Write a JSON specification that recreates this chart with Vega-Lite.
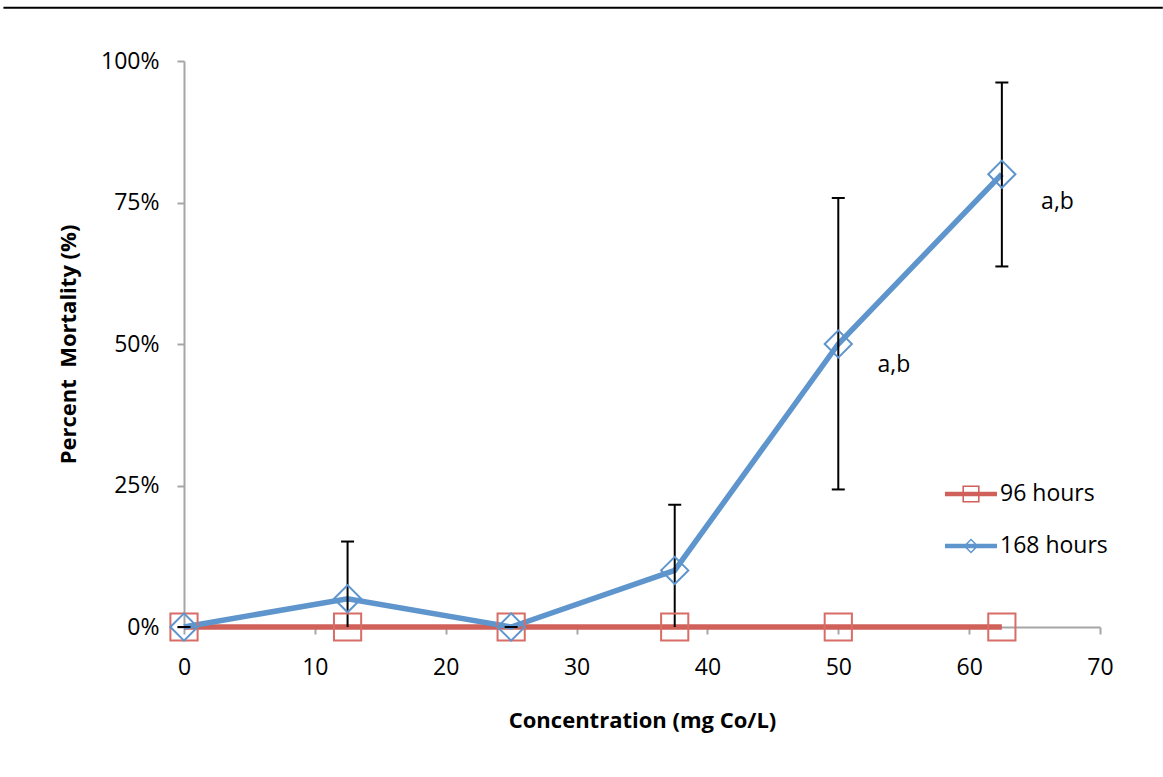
{
  "$schema": "https://vega.github.io/schema/vega-lite/v6.json",
  "description": "Percent mortality against cobalt concentration at 96 and 168 hours",
  "width": 916,
  "height": 566,
  "autosize": {"type": "none"},
  "padding": {"left": 184, "top": 61, "right": 63, "bottom": 150},
  "background": "white",
  "datasets": {
    "mortality": [
      {"conc": 0, "series": "96 hours", "mortality": 0},
      {"conc": 12.5, "series": "96 hours", "mortality": 0},
      {"conc": 25, "series": "96 hours", "mortality": 0},
      {"conc": 37.5, "series": "96 hours", "mortality": 0},
      {"conc": 50, "series": "96 hours", "mortality": 0},
      {"conc": 62.5, "series": "96 hours", "mortality": 0},
      {"conc": 0, "series": "168 hours", "mortality": 0},
      {"conc": 12.5, "series": "168 hours", "mortality": 5},
      {"conc": 25, "series": "168 hours", "mortality": 0},
      {"conc": 37.5, "series": "168 hours", "mortality": 10},
      {"conc": 50, "series": "168 hours", "mortality": 50},
      {"conc": 62.5, "series": "168 hours", "mortality": 80}
    ],
    "errors": [
      {"conc": 12.5, "lo": 0, "hi": 15.1},
      {"conc": 37.5, "lo": 0, "hi": 21.6},
      {"conc": 50, "lo": 24.3, "hi": 75.8},
      {"conc": 62.5, "lo": 63.7, "hi": 96.2}
    ],
    "caps": [
      {"conc": 0, "value": 0},
      {"conc": 12.5, "value": 15.1},
      {"conc": 25, "value": 0},
      {"conc": 37.5, "value": 21.6},
      {"conc": 50, "value": 24.3},
      {"conc": 50, "value": 75.8},
      {"conc": 62.5, "value": 63.7},
      {"conc": 62.5, "value": 96.2}
    ],
    "notes": [
      {"conc": 53.0, "value": 46.3, "text": "a,b"},
      {"conc": 65.5, "value": 75.1, "text": "a,b"}
    ],
    "border": [
      {"x": -13.8, "x2": 74.8, "y": 109.4}
    ]
  },
  "config": {
    "view": {"stroke": null},
    "font": "Open Sans",
    "axis": {
      "grid": false,
      "labelFlush": false,
      "labelOverlap": false,
      "domainColor": "#A6A6A6",
      "domainWidth": 2,
      "tickColor": "#A6A6A6",
      "tickWidth": 2,
      "tickSize": 7,
      "labelFont": "Open Sans",
      "labelFontSize": 23,
      "labelColor": "#000000",
      "titleFont": "Open Sans",
      "titleFontSize": 22,
      "titleFontWeight": "bold",
      "titleColor": "#000000"
    }
  },
  "layer": [
    {
      "data": {"name": "mortality"},
      "mark": {"type": "line", "strokeWidth": 5.5},
      "encoding": {
        "x": {
          "field": "conc",
          "type": "quantitative",
          "scale": {"domain": [0, 70], "nice": false},
          "axis": {"values": [0, 10, 20, 30, 40, 50, 60, 70], "labelPadding": 22, "titlePadding": 31},
          "title": "Concentration (mg Co/L)"
        },
        "y": {
          "field": "mortality",
          "type": "quantitative",
          "scale": {"domain": [0, 100], "nice": false},
          "axis": {"values": [0, 25, 50, 75, 100], "labelExpr": "datum.value + '%'", "labelPadding": 18, "titlePadding": 20},
          "title": "Percent\u00a0 Mortality (%)"
        },
        "color": {
          "field": "series",
          "type": "nominal",
          "scale": {"domain": ["96 hours", "168 hours"], "range": ["#D0605A", "#5F95CD"]},
          "legend": {
            "orient": "none",
            "legendX": 761,
            "legendY": 407,
            "title": null,
            "padding": 0,
            "rowPadding": 14,
            "symbolSize": 2704,
            "labelOffset": 3,
            "labelFont": "Open Sans",
            "labelFontSize": 23,
            "labelColor": "#000000",
            "encode": {
              "symbols": {
                "update": {
                  "shape": {"signal": "datum.value === '96 hours' ? 'M-1,-0.09H1V0.09H-1Z M-0.33,-0.33H0.33V0.33H-0.33Z M-0.27,-0.27V0.27H0.27V-0.27Z' : 'M-1,-0.09H1V0.09H-1Z M0,-0.29L0.29,0L0,0.29L-0.29,0Z M0,-0.21L-0.21,0L0,0.21L0.21,0Z'"},
                  "fill": {"signal": "datum.value === '96 hours' ? '#D0605A' : '#5F95CD'"},
                  "stroke": {"value": "transparent"},
                  "strokeWidth": {"value": 0},
                  "opacity": {"value": 1}
                }
              }
            }
          }
        }
      }
    },
    {
      "data": {"name": "errors"},
      "mark": {"type": "rule", "color": "#000000", "strokeWidth": 2},
      "encoding": {
        "x": {"field": "conc", "type": "quantitative"},
        "y": {"field": "lo", "type": "quantitative"},
        "y2": {"field": "hi"}
      }
    },
    {
      "data": {"name": "caps"},
      "mark": {"type": "tick", "orient": "horizontal", "color": "#000000", "size": 13, "thickness": 2, "opacity": 1},
      "encoding": {
        "x": {"field": "conc", "type": "quantitative"},
        "y": {"field": "value", "type": "quantitative"}
      }
    },
    {
      "data": {"name": "mortality"},
      "transform": [{"filter": "datum.series === '96 hours'"}],
      "mark": {"type": "point", "shape": "square", "filled": false, "strokeWidth": 2, "size": 740, "opacity": 1, "color": "#D86C66"},
      "encoding": {
        "x": {"field": "conc", "type": "quantitative"},
        "y": {"field": "mortality", "type": "quantitative"}
      }
    },
    {
      "data": {"name": "mortality"},
      "transform": [{"filter": "datum.series === '168 hours'"}],
      "mark": {"type": "point", "shape": "diamond", "filled": false, "strokeWidth": 2, "size": 740, "opacity": 1, "color": "#5F95CD"},
      "encoding": {
        "x": {"field": "conc", "type": "quantitative"},
        "y": {"field": "mortality", "type": "quantitative"}
      }
    },
    {
      "data": {"name": "notes"},
      "mark": {"type": "text", "align": "left", "baseline": "middle", "fontSize": 23, "font": "Open Sans", "color": "#000000"},
      "encoding": {
        "x": {"field": "conc", "type": "quantitative"},
        "y": {"field": "value", "type": "quantitative"},
        "text": {"field": "text"}
      }
    },
    {
      "data": {"name": "border"},
      "mark": {"type": "rule", "color": "#000000", "strokeWidth": 2},
      "encoding": {
        "x": {"field": "x", "type": "quantitative"},
        "x2": {"field": "x2"},
        "y": {"field": "y", "type": "quantitative"}
      }
    }
  ]
}
